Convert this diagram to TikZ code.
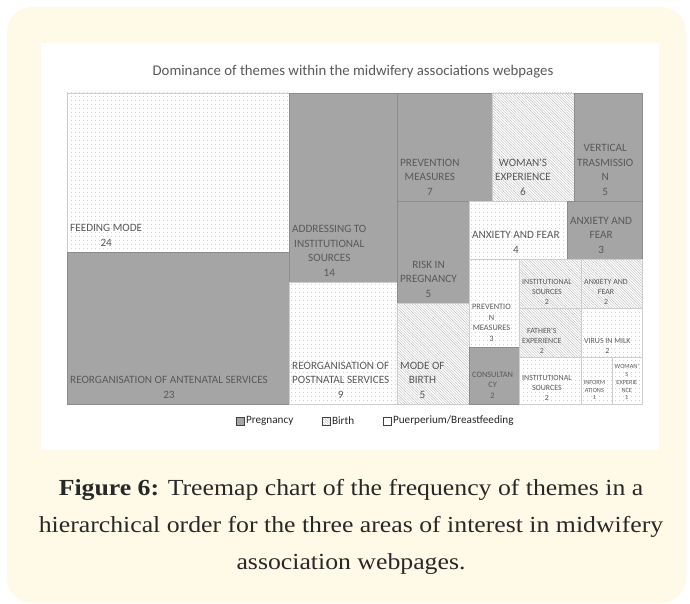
\documentclass[tikz,border=0pt]{standalone}
\usepackage{fontspec}
\setmainfont{Liberation Serif}
\newfontfamily\chartfont{Carlito}
\newfontfamily\capfont[FakeStretch=1.12]{Liberation Serif}
\usetikzlibrary{positioning,patterns.meta}
\definecolor{pagecream}{RGB}{255,250,231}
\definecolor{preggray}{RGB}{165,165,165}
\definecolor{edgedark}{RGB}{140,140,140}
\definecolor{edgelight}{RGB}{205,205,205}
\definecolor{hatchgray}{RGB}{185,185,185}
\definecolor{dotgray}{RGB}{175,175,175}
\definecolor{labelgray}{RGB}{89,89,89}
\definecolor{legtext}{RGB}{38,38,38}
\definecolor{legedge}{RGB}{64,64,64}
\definecolor{captext}{RGB}{40,40,40}

\begin{document}
\begin{tikzpicture}[x=1pt, y=-1pt,
    cellline/.style={line width=0.7pt},
    preg/.style={cellline, fill=preggray, draw=edgedark},
    birth/.style={cellline, draw=edgelight,
      pattern={Lines[angle=-45,distance=1.9pt,line width=0.4pt]}, pattern color=hatchgray},
    puer/.style={cellline, draw=edgelight,
      pattern={Dots[distance=4pt,radius=0.55pt]}, pattern color=dotgray},
    lbl/.style={text=labelgray, align=center, anchor=south west,
      inner sep=1.5pt, xshift=1.5pt},
    bigtxt/.style={lbl, yshift=4pt, font=\chartfont\fontsize{11.2}{14.5}\selectfont},
    midtxt/.style={lbl, yshift=4pt, font=\chartfont\fontsize{8.3}{10.5}\selectfont},
    smalltxt/.style={lbl, yshift=2pt, font=\chartfont\fontsize{7.9}{10}\selectfont},
    tinytxt/.style={lbl, yshift=3pt, inner sep=1pt, font=\chartfont\fontsize{6.3}{7.8}\selectfont},
    legbox/.style={draw=legedge, line width=0.6pt, minimum size=8pt, inner sep=0pt},
    legtxt/.style={font=\chartfont\fontsize{11.2}{13}\selectfont, text=legtext, inner sep=1pt},
    captxt/.style={font=\capfont\fontsize{23}{37}\selectfont, text=captext, align=center}
  ]
  \useasboundingbox (0,0) rectangle (690,604);
  \fill[pagecream, rounded corners=25pt] (7,7) rectangle (686,603);
  \fill[white] (41,43) rectangle (659,450);

  \node[font=\chartfont\fontsize{14.8}{17}\selectfont, text=labelgray] (title) at (353,72)
    {Dominance of themes within the midwifery associations webpages};

  % treemap cells: name/area/text size/left/top/right/bottom/label
  \foreach \nm/\sty/\fs/\xa/\ya/\xb/\yb/\txt in {
      feeding/puer/bigtxt/67/93/289/252/{FEEDING MODE\\24},
      antenatal/preg/bigtxt/67/252/289/404/{REORGANISATION OF ANTENATAL SERVICES\\23},
      addressing/preg/bigtxt/289/93/397/282/{ADDRESSING TO\\INSTITUTIONAL\\SOURCES\\14},
      postnatal/puer/bigtxt/289/282/397/404/{REORGANISATION OF\\POSTNATAL SERVICES\\9},
      prevpreg/preg/bigtxt/397/93/492/201/{PREVENTION\\MEASURES\\7},
      womanexp/birth/bigtxt/492/93/574/201/{WOMAN'S\\EXPERIENCE\\6},
      vertical/preg/bigtxt/574/93/642/201/{VERTICAL\\TRASMISSIO\\N\\5},
      risk/preg/bigtxt/397/201/469/303/{RISK IN\\PREGNANCY\\5},
      modebirth/birth/bigtxt/397/303/469/404/{MODE OF\\BIRTH\\5},
      anxpuer/puer/bigtxt/469/201/567/259/{ANXIETY AND FEAR\\4},
      anxpreg/preg/bigtxt/567/201/642/259/{ANXIETY AND\\FEAR\\3},
      prevpuer/puer/midtxt/469/259/519/347/{PREVENTIO\\N\\MEASURES\\3},
      consult/preg/midtxt/469/347/519/404/{CONSULTAN\\CY\\2},
      instbirth/birth/smalltxt/519/259/581/308/{INSTITUTIONAL\\SOURCES\\2},
      anxbirth/birth/smalltxt/581/259/642/308/{ANXIETY AND\\FEAR\\2},
      father/birth/smalltxt/519/308/581/357/{FATHER'S\\EXPERIENCE\\2},
      virus/puer/smalltxt/581/308/642/357/{VIRUS IN MILK\\2},
      instpuer/puer/smalltxt/519/357/581/404/{INSTITUTIONAL\\SOURCES\\2},
      inform/puer/tinytxt/581/357/612/404/{INFORM\\ATIONS\\1},
      womanone/puer/tinytxt/612/357/642/404/{WOMAN'\\S\\EXPERIE\\NCE\\1}}{
    \draw[\sty] (\xa,\ya) rectangle (\xb,\yb);
    \node[\fs] (\nm) at (\xa,\yb) {\txt};
  }

  % legend
  \node[legbox, fill=preggray] (pregkey) at (240,421) {};
  \node[legtxt, right=0.5pt of pregkey] (pregname) {Pregnancy};
  \node[legbox, pattern={Lines[angle=-45,distance=1.9pt,line width=0.4pt]},
    pattern color=hatchgray] (birthkey) at (326,421) {};
  \node[legtxt, right=0.5pt of birthkey] (birthname) {Birth};
  \node[legbox, fill=white] (puerkey) at (387,421) {};
  \node[legtxt, right=0.5pt of puerkey] (puername) {Puerperium/Breastfeeding};

  \node[captxt] (caption) at (351,527)
    {\textbf{Figure 6:} Treemap chart of the frequency of themes in a\\
     hierarchical order for the three areas of interest in midwifery\\
     association webpages.};
\end{tikzpicture}
\end{document}
